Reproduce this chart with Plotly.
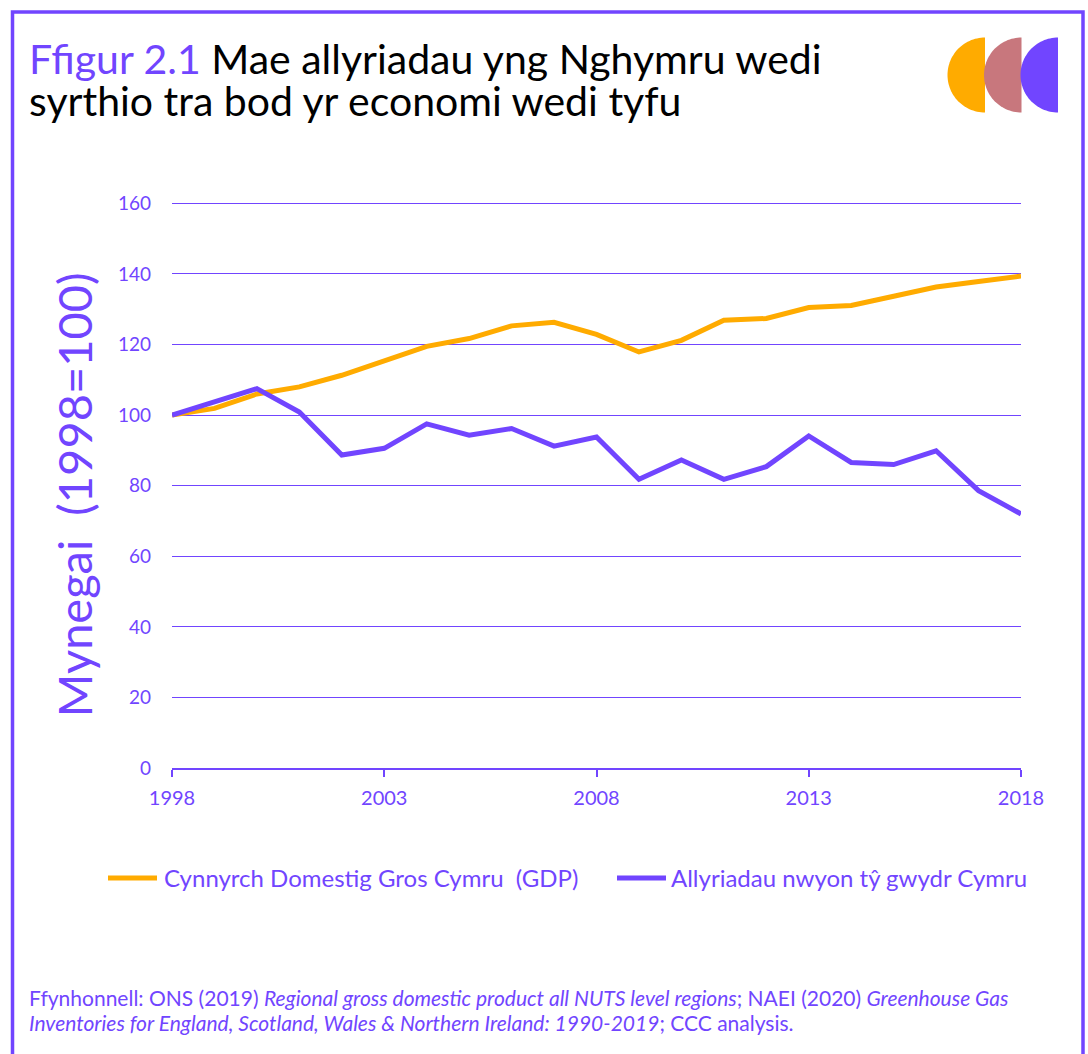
import numpy as np
import plotly.graph_objects as go

years = list(range(1998, 2019))
gdp = [100, 101.9, 106.0, 108.0, 111.3, 115.4, 119.5, 121.7, 125.3, 126.3, 122.9,
       117.9, 121.2, 126.9, 127.4, 130.5, 131.1, 133.7, 136.3, 137.9, 139.4]
ghg = [100, 103.8, 107.5, 100.9, 88.7, 90.6, 97.5, 94.3, 96.2, 91.2, 93.8,
       81.8, 87.3, 81.8, 85.4, 94.1, 86.6, 86.0, 89.9, 78.6, 72.0]
series_names = ["Cynnyrch Domestig Gros Cymru  (GDP)", "Allyriadau nwyon tŷ gwydr Cymru"]
x_ticks = [1998, 2003, 2008, 2013, 2018]
y_ticks = [0, 20, 40, 60, 80, 100, 120, 140, 160]

PURPLE = "#7145FF"
ORANGE = "#FFAB00"
PINK = "#C8777D"
FONT = "Lato"

W, H = 1088, 1054
YMAX = 160.4
L, R, B = 172, 67, 286
T = 768 - 565 * YMAX / 160
PW, PH = W - L - R, H - T - B


def px(x):
    return (x - L) / PW


def py(y):
    return (H - B - y) / PH


fig = go.Figure()
fig.add_trace(go.Scatter(x=years, y=gdp, mode="lines", name=series_names[0],
                         line=dict(color=ORANGE, width=5)))
fig.add_trace(go.Scatter(x=years, y=ghg, mode="lines", name=series_names[1],
                         line=dict(color=PURPLE, width=5)))

shapes = []
# border
shapes.append(dict(type="rect", xref="paper", yref="paper",
                   x0=px(12.5), x1=px(1083), y0=py(1070), y1=py(11.5),
                   line=dict(color=PURPLE, width=3.5), fillcolor="rgba(0,0,0,0)", layer="above"))
# logo: three left half-discs
for cx, col in [(985, ORANGE), (1021.5, PINK), (1058, PURPLE)]:
    cy, r = 74.5, 37.5
    th = np.linspace(np.pi / 2, 3 * np.pi / 2, 60)
    pts = [(px(cx + r * np.cos(t)), py(cy - r * np.sin(t))) for t in th]
    path = "M " + " L ".join(f"{a:.5f},{b:.5f}" for a, b in pts) + " Z"
    shapes.append(dict(type="path", xref="paper", yref="paper", path=path,
                       fillcolor=col, line=dict(width=0)))

# manual legend samples
leg_y = 878
for (x0, x1), col in [((108, 157), ORANGE), ((617, 666), PURPLE)]:
    shapes.append(dict(type="line", xref="paper", yref="paper",
                       x0=px(x0), x1=px(x1), y0=py(leg_y), y1=py(leg_y),
                       line=dict(color=col, width=5)))

annotations = [
    dict(xref="paper", yref="paper", x=px(27), y=py(84.5), xanchor="left", yanchor="bottom",
         align="left", valign="bottom", showarrow=False, height=41,
         text=f"<span style='color:{PURPLE}'>Ffigur 2.1</span> Mae allyriadau yng Nghymru wedi",
         font=dict(family=FONT, size=41, color="#000000")),
    dict(xref="paper", yref="paper", x=px(27), y=py(126.5), xanchor="left", yanchor="bottom",
         align="left", valign="bottom", showarrow=False, height=41,
         text="syrthio tra bod yr economi wedi tyfu",
         font=dict(family=FONT, size=41, color="#000000")),
    dict(xref="paper", yref="paper", x=px(74), y=py(495), xanchor="center", yanchor="middle",
         showarrow=False, textangle=-90, text="Mynegai  (1998=100)",
         font=dict(family=FONT, size=47, color=PURPLE)),
    dict(xref="paper", yref="paper", x=px(162), y=py(leg_y), xanchor="left", yanchor="middle",
         showarrow=False, text=series_names[0],
         font=dict(family=FONT, size=24, color=PURPLE)),
    dict(xref="paper", yref="paper", x=px(669), y=py(leg_y), xanchor="left", yanchor="middle",
         showarrow=False, text=series_names[1],
         font=dict(family=FONT, size=24, color=PURPLE)),
    dict(xref="paper", yref="paper", x=px(27), y=py(998), xanchor="left", yanchor="middle",
         showarrow=False, align="left",
         text="Ffynhonnell: ONS (2019) <i>Regional gross domestic product all NUTS level regions</i>; NAEI (2020) <i>Greenhouse Gas</i>",
         font=dict(family=FONT, size=21, color=PURPLE)),
    dict(xref="paper", yref="paper", x=px(27), y=py(1023), xanchor="left", yanchor="middle",
         showarrow=False, align="left",
         text="<i>Inventories for England, Scotland, Wales &amp; Northern Ireland: 1990-2019</i>; CCC analysis.",
         font=dict(family=FONT, size=21, color=PURPLE)),
]

fig.update_layout(
    width=W, height=H,
    margin=dict(l=L, r=R, t=T, b=B),
    paper_bgcolor="white", plot_bgcolor="white",
    font=dict(family=FONT, color=PURPLE),
    showlegend=False,
    shapes=shapes,
    annotations=annotations,
    xaxis=dict(range=[1998, 2018], tickvals=x_ticks, ticks="outside", ticklen=7,
               tickwidth=1.5, tickcolor=PURPLE, showline=True, linecolor=PURPLE,
               linewidth=1.5, showgrid=False, zeroline=False,
               tickfont=dict(family=FONT, size=20, color=PURPLE), ticklabelstandoff=4),
    yaxis=dict(range=[0, YMAX], tickvals=y_ticks, showgrid=True, gridcolor=PURPLE,
               gridwidth=1.3, zeroline=False, showline=False, ticks="",
               tickfont=dict(family=FONT, size=19, color=PURPLE), ticklabelstandoff=20),
)

fig.write_html("out.html", config={"displayModeBar": False},
               post_script="document.body.style.margin='0';")
